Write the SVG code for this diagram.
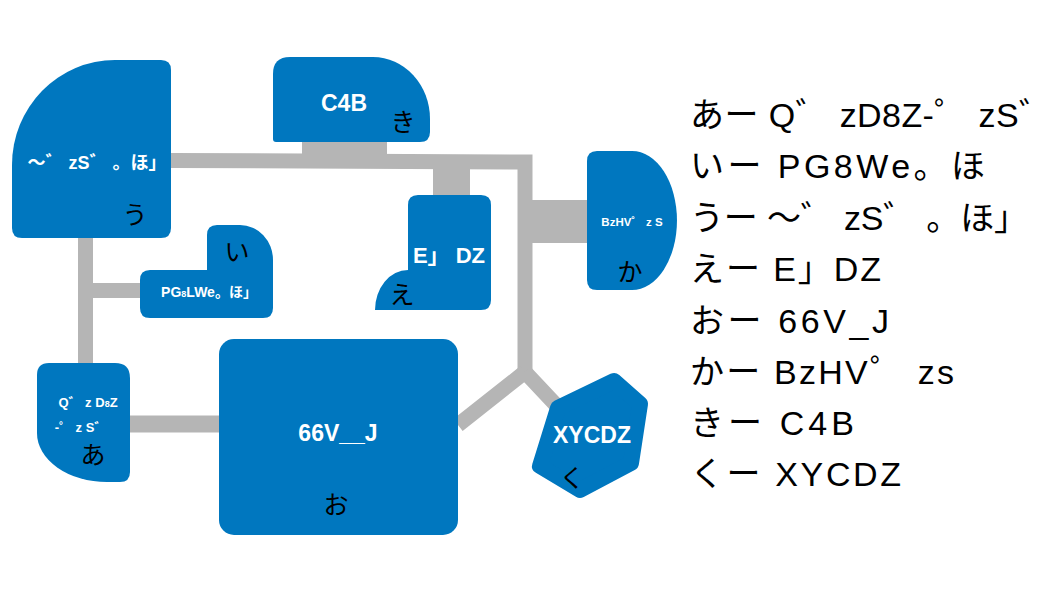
<svg xmlns="http://www.w3.org/2000/svg" width="1060" height="600" viewBox="0 0 1060 600">
<style>
.n{fill:#0077bf}
.c{stroke:#b5b5b5;fill:none}
.cr{fill:#b5b5b5}
.t{font-family:"Liberation Sans","Noto Sans CJK JP",sans-serif;font-weight:bold;fill:#fff;text-anchor:middle}
.k{font-family:"Noto Sans CJK JP",sans-serif;fill:#000;text-anchor:middle;font-size:25px}
.l{font-family:"Liberation Sans","Noto Sans CJK JP",sans-serif;fill:#000;font-size:34px}
</style>
<rect width="1060" height="600" fill="#fff"/>
<g id="connectors">
<path class="c" stroke-width="15" d="M171,160.5 L525,162 L525,372"/>
<path class="c" stroke-width="15" d="M525,372 L458,425 M525,372 L556,405"/>
<rect class="cr" x="525" y="200" width="63" height="43"/>
<rect class="cr" x="302" y="138" width="85" height="20"/>
<rect class="cr" x="433" y="165" width="37" height="32"/>
<path class="c" stroke-width="15" d="M85.5,236 L85.5,365 M85.5,290.5 L141,290.5"/>
<path class="c" stroke-width="17" d="M128,424 L221,424"/>
</g>
<g id="node-u">
<path class="n" d="M12,165 A103 105 0 0 1 115,60 L161,60 Q171,60 171,70 L171,228 Q171,238 161,238 L22,238 Q12,238 12,228 Z"/>
<text class="t" x="97" y="169" font-size="18">〜゛ zS゛ 。ほ」</text>
<text class="k" x="135" y="224">う</text>
</g>
<g id="node-ki">
<path class="n" d="M290,57 L373,57 A57 62 0 0 1 430,119 L430,132 Q430,142 420,142 L276,142 Q273,142 273,139 L273,74 Q273,57 290,57 Z"/>
<text class="t" x="344" y="111" font-size="23">C4B</text>
<text class="k" x="403" y="131">き</text>
</g>
<g id="node-e">
<path class="n" d="M418,195 L481,195 Q491,195 491,205 L491,300 Q491,310 481,310 L375,310 A33 40 0 0 1 408,270 L408,205 Q408,195 418,195 Z"/>
<text class="t" x="449" y="263" font-size="22">E」 DZ</text>
<text class="k" x="402" y="304">え</text>
</g>
<g id="node-ka">
<path class="n" d="M597,151 L632,151 A45 69.5 0 0 1 632,290 L597,290 Q587,290 587,280 L587,161 Q587,151 597,151 Z"/>
<text class="t" x="632" y="226" font-size="11.5">BzHV゜ z S</text>
<text class="k" x="630" y="281">か</text>
</g>
<g id="node-i">
<path class="n" d="M150,270 L207,270 L207,235 Q207,225 217,225 L240,225 A33 35 0 0 1 273,260 L273,308 Q273,318 263,318 L150,318 Q140,318 140,308 L140,280 Q140,270 150,270 Z"/>
<text class="t" x="209" y="297" font-size="14">PG<tspan font-size="9">8</tspan>LWe。ほ」</text>
<text class="k" x="237" y="261">い</text>
</g>
<g id="node-a">
<path class="n" d="M49,363 L115,363 Q130,363 130,378 L130,472 Q130,482 120,482 L107,482 A70 49 0 0 1 37,433 L37,375 Q37,363 49,363 Z"/>
<text class="t" x="88" y="407" font-size="13">Q゛ z D<tspan font-size="9">8</tspan>Z</text>
<text class="t" x="81" y="432" font-size="13">-゜ z S゛</text>
<text class="k" x="93" y="464">あ</text>
</g>
<g id="node-o">
<rect class="n" x="219" y="339" width="239" height="196" rx="15"/>
<text class="t" x="338" y="441" font-size="23">66V__J</text>
<text class="k" x="336" y="514">お</text>
</g>
<g id="node-ku">
<polygon class="n" stroke="#0077bf" stroke-width="16" stroke-linejoin="round" points="558,408 614,381 640,404 631,463 580,490 540,466"/>
<text class="t" x="592" y="443" font-size="23">XYCDZ</text>
<text class="k" x="572" y="487">く</text>
</g>
<g id="legend">
<text class="l" x="690" y="127" textLength="363" lengthAdjust="spacing">あー Q゛ zD8Z-゜ zS゛</text>
<text class="l" x="690" y="178" textLength="295" lengthAdjust="spacing">いー PG8We。ほ</text>
<text class="l" x="690" y="230" textLength="338" lengthAdjust="spacing">うー 〜゛ zS゛ 。ほ」</text>
<text class="l" x="690" y="281" textLength="191" lengthAdjust="spacing">えー E」DZ</text>
<text class="l" x="690" y="333" textLength="199" lengthAdjust="spacing">おー 66V_J</text>
<text class="l" x="690" y="384" textLength="264" lengthAdjust="spacing">かー BzHV゜ zs</text>
<text class="l" x="690" y="435" textLength="164" lengthAdjust="spacing">きー C4B</text>
<text class="l" x="690" y="486" textLength="211" lengthAdjust="spacing">くー XYCDZ</text>
</g>
</svg>
